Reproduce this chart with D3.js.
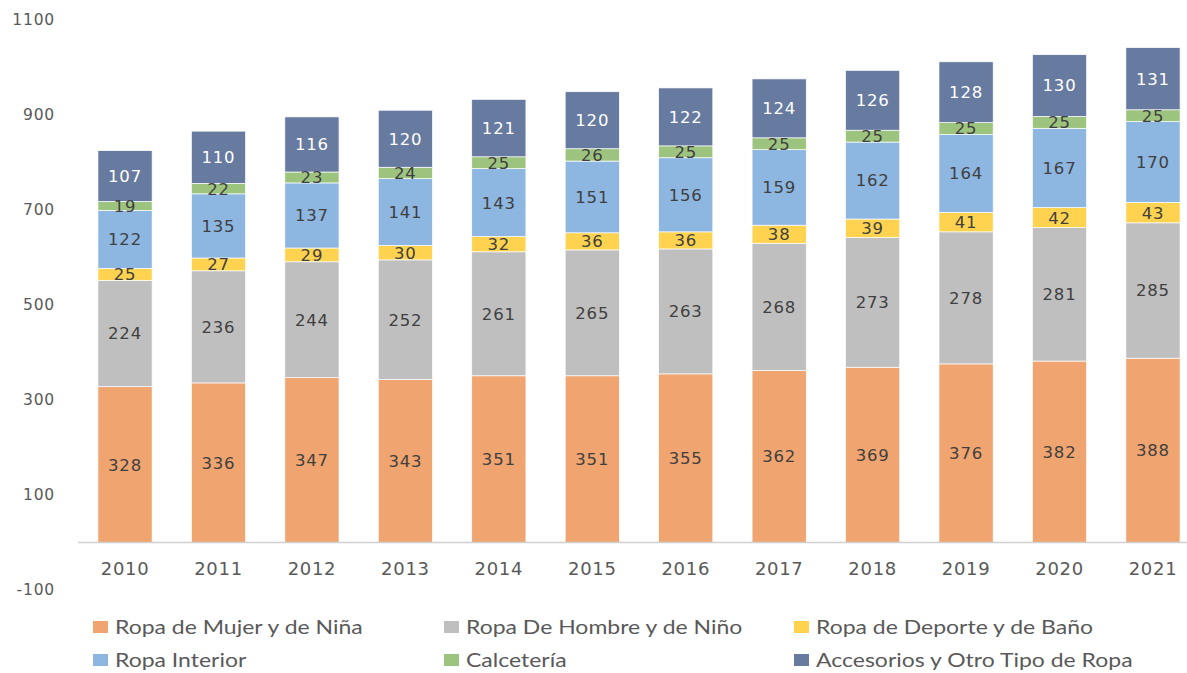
<!DOCTYPE html>
<html>
<head>
<meta charset="utf-8">
<script src="https://cdn.jsdelivr.net/npm/d3@7"></script>
<style>
    body { margin: 0; background: #ffffff; }
    svg { display: block; }
</style>
</head>
<body>
<svg id="chart" width="1187" height="673"></svg>
<script>
// chart data
var years = ["2010", "2011", "2012", "2013", "2014", "2015", "2016", "2017", "2018", "2019", "2020", "2021"];
var seriesNames = ["Ropa de Mujer y de Niña", "Ropa De Hombre y de Niño", "Ropa de Deporte y de Baño",
    "Ropa Interior", "Calcetería", "Accesorios y Otro Tipo de Ropa"];
var mujer = [328, 336, 347, 343, 351, 351, 355, 362, 369, 376, 382, 388];
var hombre = [224, 236, 244, 252, 261, 265, 263, 268, 273, 278, 281, 285];
var deporte = [25, 27, 29, 30, 32, 36, 36, 38, 39, 41, 42, 43];
var interior = [122, 135, 137, 141, 143, 151, 156, 159, 162, 164, 167, 170];
var calceteria = [19, 22, 23, 24, 25, 26, 25, 25, 25, 25, 25, 25];
var accesorios = [107, 110, 116, 120, 121, 120, 122, 124, 126, 128, 130, 131];
var yTicks = [-100, 100, 300, 500, 700, 900, 1100];

var colors = ["#F0A46F", "#BFBFBF", "#FFD34F", "#8DB6E1", "#9DC47F", "#677A9F"];
var labelColors = ["#404040", "#404040", "#404040", "#404040", "#404040", "#ffffff"];

var seriesValues = [mujer, hombre, deporte, interior, calceteria, accesorios];
var table = years.map(function (yr, i) {
    var row = {year: yr};
    seriesNames.forEach(function (name, s) { row[name] = seriesValues[s][i]; });
    return row;
});

var svg = d3.select("#chart");

var x = d3.scaleBand()
    .domain(years)
    .range([78.3, 1199.7])
    .paddingInner(0.42)
    .paddingOuter(0.21);

var y = d3.scaleLinear()
    .domain([-100, 1100])
    .range([590, 20]);

var stack = d3.stack().keys(seriesNames);
var layers = stack(table);

// bars
var layerGroups = svg.append("g").selectAll("g")
    .data(layers)
    .enter().append("g")
    .attr("fill", function (d, i) { return colors[i]; });

layerGroups.selectAll("rect")
    .data(function (d) { return d; })
    .enter().append("rect")
    .attr("x", function (d) { return x(d.data.year); })
    .attr("y", function (d) { return y(d[1]); })
    .attr("width", x.bandwidth())
    .attr("height", function (d) { return y(d[0]) - y(d[1]); })
    .attr("stroke", "#ffffff")
    .attr("stroke-width", 0.7);

// value labels
layers.forEach(function (layer, s) {
    svg.append("g").selectAll("text")
        .data(layer)
        .enter().append("text")
        .attr("x", function (d) { return x(d.data.year) + x.bandwidth() / 2; })
        .attr("y", function (d) { return (y(d[0]) + y(d[1])) / 2; })
        .attr("dy", "0.36em")
        .attr("text-anchor", "middle")
        .attr("font-family", "DejaVu Sans, Verdana, sans-serif")
        .attr("font-size", "16.5px")
        .attr("letter-spacing", "0.8px")
        .attr("fill", labelColors[s])
        .text(function (d) { return d[1] - d[0]; });
});

// x axis line at zero
svg.append("line")
    .attr("x1", 78)
    .attr("x2", 1187)
    .attr("y1", y(0))
    .attr("y2", y(0))
    .attr("stroke", "#D0D0D0")
    .attr("stroke-width", 1.5);

// x labels
var xAxis = svg.append("g")
    .attr("transform", "translate(0," + 569 + ")")
    .call(d3.axisBottom(x).tickSize(0).tickPadding(0));
xAxis.select(".domain").remove();
xAxis.selectAll("text")
    .attr("dy", "0.36em")
    .attr("font-family", "DejaVu Sans, Verdana, sans-serif")
    .attr("font-size", "18px")
    .attr("letter-spacing", "0.7px")
    .attr("fill", "#595959");

// y labels
var yAxis = svg.append("g")
    .attr("transform", "translate(55,0)")
    .call(d3.axisLeft(y).tickValues(yTicks).tickSize(0).tickPadding(0)
        .tickFormat(function (d) { return String(d); }));
yAxis.select(".domain").remove();
yAxis.selectAll("text")
    .attr("font-family", "DejaVu Sans, Verdana, sans-serif")
    .attr("font-size", "15.5px")
    .attr("letter-spacing", "0.8px")
    .attr("fill", "#595959");

// legend
var legendX = [93, 444, 794];
var legendY = [627, 660];
var legend = svg.append("g").selectAll("g")
    .data(seriesNames)
    .enter().append("g")
    .attr("transform", function (d, i) {
        return "translate(" + legendX[i % 3] + "," + legendY[Math.floor(i / 3)] + ")";
    });

legend.append("rect")
    .attr("x", 0)
    .attr("y", -6)
    .attr("width", 15)
    .attr("height", 12)
    .attr("fill", function (d, i) { return colors[i]; });

// the legend text in the picture is stretched sideways, so widen it a little
legend.append("text")
    .attr("transform", "translate(22,0) scale(1.21,1)")
    .attr("dy", "0.36em")
    .attr("font-family", "Lato, 'Open Sans', sans-serif")
    .attr("font-size", "19px")
    .attr("fill", "#595959")
    .text(function (d) { return d; });
</script>
</body>
</html>
